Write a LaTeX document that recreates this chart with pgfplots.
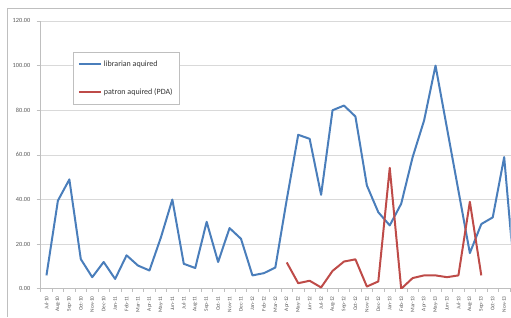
\documentclass[border=0pt]{standalone}
\usepackage{pgfplots}
\pgfplotsset{compat=1.18}
\usepackage{fontspec}
\setmainfont{Carlito}
\definecolor{blueL}{HTML}{4A7EBB}
\definecolor{redL}{HTML}{BE4B48}
\definecolor{gridc}{HTML}{D9D9D9}
\definecolor{txt}{HTML}{595959}
\definecolor{axc}{HTML}{BFBFBF}
\begin{document}
\begin{tikzpicture}
\path (0pt,0pt) rectangle (511pt,317pt);
\draw[color=axc, line width=0.6pt] (7pt,0pt) -- (7pt,309pt) -- (511pt,309pt);
\begin{axis}[at={(46.5pt,28pt)}, anchor=origin, scale only axis,
  width=470.3pt, height=268pt,
  xmin=-0.5, xmax=40.57, ymin=0, ymax=120,
  axis x line=bottom, axis y line=left,
  axis line style={-, draw=axc, line width=0.6pt},
  ytick={0,20,...,120}, ymajorgrids,
  grid style={gridc, line width=0.6pt},
  /pgf/number format/.cd, fixed, fixed zerofill, precision=2, assume math mode=true, /pgfplots/.cd,
  yticklabel style={font=\fontsize{6.3}{7}\selectfont, color=txt, xshift=-3pt},
  xtick={0,...,40},
  xticklabels={Jul-10,Aug-10,Sep-10,Oct-10,Nov-10,Dec-10,Jan-11,Feb-11,Mar-11,Apr-11,May-11,Jun-11,Jul-11,Aug-11,Sep-11,Oct-11,Nov-11,Dec-11,Jan-12,Feb-12,Mar-12,Apr-12,May-12,Jun-12,Jul-12,Aug-12,Sep-12,Oct-12,Nov-12,Dec-12,Jan-13,Feb-13,Mar-13,Apr-13,May-13,Jun-13,Jul-13,Aug-13,Sep-13,Oct-13,Nov-13},
  x tick label style={rotate=90, anchor=east, font=\fontsize{5.4}{6}\selectfont, color=txt},
  minor xtick={-0.5,0.5,...,40.5},
  tick align=outside, major tick length=4pt, minor tick length=3pt,
  major x tick style={draw=none},
  minor x tick style={draw=axc, line width=0.6pt},
  major y tick style={draw=axc, line width=0.6pt},
  legend cell align=left,
  legend image code/.code={\path (0pt,0pt) -- (11pt,0pt); \draw[#1, line width=2pt] (11pt,0pt) -- (22pt,0pt);},
  legend style={at={(0.068,0.884)}, anchor=north west, draw=axc, line width=0.6pt, fill=white,
    font=\fontsize{8}{9}\selectfont, text=black!80, inner xsep=5pt, inner ysep=6.5pt, row sep=16.5pt,
    nodes={inner sep=2pt}},
]
\addplot[blueL, line width=2pt, line join=round] coordinates {
(0,6) (1,39.5) (2,49) (3,13.3) (4,5.2) (5,12) (6,4.4) (7,15) (8,10.4) (9,8.2)
(10,23) (11,40) (12,11.2) (13,9.3) (14,30) (15,12) (16,27.2) (17,22.4) (18,6) (19,7)
(20,9.5) (21,40) (22,69) (23,67.2) (24,42.1) (25,80) (26,82.1) (27,77.2) (28,46.3) (29,34.3)
(30,28.4) (31,38.1) (32,59) (33,75.4) (34,100) (35,72) (36,44) (37,16) (38,29) (39,32)
(40,59) (41,0)
};
\addlegendentry{librarian aquired}
\addplot[redL, line width=2pt, line join=round] coordinates {
(21,11.8) (22,2.5) (23,3.6) (24,0.6) (25,8) (26,12.2) (27,13.2) (28,1) (29,3.3)
(30,54.2) (31,0) (32,4.8) (33,6) (34,6) (35,5.2) (36,6) (37,39) (38,6)
};
\addlegendentry{patron aquired (PDA)}
\end{axis}
\end{tikzpicture}
\end{document}
